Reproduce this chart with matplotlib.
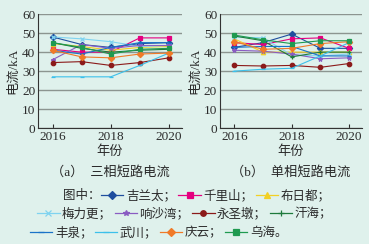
import matplotlib
matplotlib.use("Agg")
import matplotlib.pyplot as plt
from matplotlib.lines import Line2D

plt.rcParams["font.family"] = ["Liberation Serif", "Noto Sans CJK SC"]

years = [2016, 2017, 2018, 2019, 2020]
names = ["吉兰太", "千里山", "布日都", "梅力更", "响沙湾", "永圣墩",
         "汗海", "丰泉", "武川", "庆云", "乌海"]
colors = ["#1f4e9e", "#e4007f", "#f2d024", "#7fd3f0", "#8a5cc2", "#8b1a1a",
          "#1e7a3c", "#1a73c8", "#3cc0ea", "#f07a28", "#1f9a50"]
markers = ["D", "s", "^", "x", "*", "o", "+", "_", "_", "D", "s"]

three_phase = [
    [48, 44, 42.5, 44.5, 45],
    [41.5, 40, 40, 47.5, 47.5],
    [44.5, 43, 41, 42.5, 43],
    [48, 47, 45.5, 43, 43.5],
    [36, 44, 42, 43.5, 43.5],
    [34.5, 35, 33, 34.5, 37],
    [45, 42, 40, 41, 41.5],
    [41, 39, 42.5, 45, 45],
    [27, 27, 27, 33, 39.5],
    [41, 37.5, 37, 39, 39.5],
    [45, 42.5, 39, 41.5, 42],
]
single_phase = [
    [42.5, 45, 49.5, 42, 42],
    [45, 44, 47, 47.5, 42],
    [47, 40, 40, 40, 40],
    [48, 47.5, 38.5, 38, 39],
    [41, 40.5, 39, 36.5, 37],
    [33, 32.7, 33, 32, 34],
    [48.5, 46, 37.5, 40, 40],
    [42.5, 43, 43, 38, 38],
    [30, 31, 31.5, 38, 45],
    [45.5, 41.5, 42, 44.5, 45.5],
    [49, 46.5, 44.5, 46, 46],
]
titles = ["（a）  三相短路电流", "（b）  单相短路电流"]

bg = "#dff1ec"
txt = "#2b2b2b"

fig = plt.figure(figsize=(3.69, 2.44), dpi=100, facecolor=bg)
positions = [[0.103, 0.475, 0.39, 0.467], [0.596, 0.475, 0.385, 0.467]]

for pos, data, title in zip(positions, [three_phase, single_phase], titles):
    ax = fig.add_axes(pos)
    ax.set_facecolor(bg)
    for vals, c, m in zip(data, colors, markers):
        ax.plot(years, vals, color=c, marker=m, lw=0.8, ms=3.2, mew=0.9)
    ax.set_xlim(2015.5, 2020.45)
    ax.set_ylim(0, 60)
    ax.set_xticks([2016, 2018, 2020])
    ax.set_yticks(range(0, 61, 10))
    ax.yaxis.grid(True, color="#8c9590", lw=1.0)
    ax.set_axisbelow(True)
    for s in ["top", "right"]:
        ax.spines[s].set_visible(False)
    for s in ["left", "bottom"]:
        ax.spines[s].set_color("#333333")
        ax.spines[s].set_linewidth(0.8)
    ax.tick_params(axis="x", direction="in", length=3, width=0.8,
                   labelsize=9.5, colors=txt, pad=2)
    ax.tick_params(axis="y", length=0, labelsize=9.5, colors=txt, pad=2)
    ax.set_ylabel("电流/kA", fontsize=9.5, color=txt, labelpad=2)
    cx = pos[0] + pos[2] / 2
    fig.text(cx, 0.377, "年份", fontsize=9.5, color=txt, ha="center", va="center")
    fig.text(cx, 0.295, title, fontsize=9.5, color=txt, ha="center", va="center")

# legend rows
rows = [(0, 3), (3, 7), (7, 11)]
row_y = [0.197, 0.122, 0.045]
row_x = [0.585, 0.5, 0.43]
for (a, b), y, x in zip(rows, row_y, row_x):
    handles = [Line2D([], [], color=colors[i], marker=markers[i], lw=0.9,
                      ms=4, mew=0.9) for i in range(a, b)]
    end = "。" if b == len(names) else "；"
    labels = [names[i] + ("；" if i < b - 1 else end) for i in range(a, b)]
    fig.legend(handles, labels, loc="center", bbox_to_anchor=(x, y),
               ncol=b - a, frameon=False, fontsize=9, handlelength=1.8,
               handletextpad=0.2, columnspacing=0.2, labelcolor=txt,
               borderpad=0, borderaxespad=0)
fig.text(0.172, 0.197, "图中：", fontsize=9, color=txt, ha="left", va="center")

fig.savefig("out.png", dpi=100, facecolor=bg)
